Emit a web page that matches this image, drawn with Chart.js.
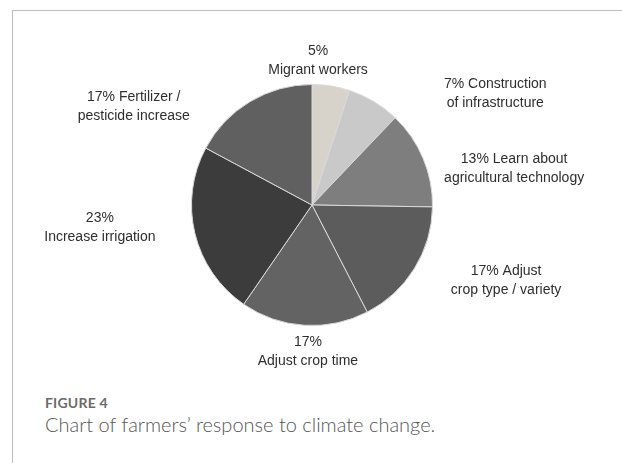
<!DOCTYPE html>
<html>
<head>
<meta charset="utf-8">
<script src="https://cdn.jsdelivr.net/npm/chart.js@4.4.1/dist/chart.umd.min.js"></script>
<style>
  body { margin: 0; background: #fff; width: 622px; height: 463px; overflow: hidden; position: relative; }
  #frame { position: absolute; left: 12px; top: 10px; width: 640px; height: 470px; border-left: 1px solid #bcbcbc; border-top: 1px solid #bcbcbc; }
  #chart-box { position: absolute; left: 0; top: 0; width: 622px; height: 385px; }
  #fig-label { position: absolute; left: 45px; top: 394px; font-family: Lato, "Open Sans", sans-serif; font-size: 14px; font-weight: 700; color: #6b6b6b; letter-spacing: 0.2px; }
  #fig-caption { position: absolute; left: 45px; top: 412px; font-family: Lato, "Open Sans", sans-serif; font-size: 20px; font-weight: 300; color: #555; }
</style>
</head>
<body>
<div id="frame"></div>
<div id="chart-box"><canvas id="myChart" width="622" height="385"></canvas></div>
<div id="fig-label">FIGURE 4</div>
<div id="fig-caption">Chart of farmers’ response to climate change.</div>
<script>
// data (percent of responses), clockwise from the top
const categories = [
  ["", "Migrant workers"],
  ["Construction", "of infrastructure"],
  ["Learn about", "agricultural technology"],
  ["Adjust", "crop type / variety"],
  ["", "Adjust crop time"],
  ["", "Increase irrigation"],
  ["Fertilizer /", "pesticide increase"]
];
const values = [5, 7, 13, 17, 17, 23, 17];
const sliceColors = ['#d7d3cb', '#c9c9c9', '#7e7e7e', '#5c5c5c', '#636363', '#3c3c3c', '#606060'];

// where each label sits: angle (deg, clockwise from top) and distance in pie radii
const labelPlace = [[2.4, 1.2], [58.7, 1.78], [79.7, 1.705], [111.4, 1.73], [181.6, 1.22], [264, 1.77], [298.9, 1.69]];

const outsideLabels = {
  id: 'outsideLabels',
  afterDraw(chart) {
    const ctx = chart.ctx;
    const arcs = chart.getDatasetMeta(0).data;
    ctx.save();
    ctx.font = '14px "Liberation Sans", Arial, sans-serif';
    ctx.fillStyle = '#2e2e2e';
    ctx.textAlign = 'center';
    ctx.textBaseline = 'middle';
    arcs.forEach((arc, i) => {
      const [deg, k] = labelPlace[i];
      const a = deg * Math.PI / 180;
      const cx = arc.x + arc.outerRadius * k * Math.sin(a);
      const cy = arc.y - arc.outerRadius * k * Math.cos(a);
      const first = (values[i] + '% ' + categories[i][0]).trim();
      ctx.fillText(first, cx, cy - 9.5);
      ctx.fillText(categories[i][1], cx, cy + 9.5);
    });
    ctx.restore();
  }
};

const ctx = document.querySelector('#myChart').getContext('2d');
const chart = new Chart(ctx, {
  type: 'pie',
  data: {
    labels: categories.map(c => c.join(' ').trim()),
    datasets: [{
      data: values,
      backgroundColor: sliceColors,
      borderColor: '#d9d9d9',
      borderWidth: 1
    }]
  },
  options: {
    responsive: false,
    animation: false,
    layout: { padding: { top: 84, bottom: 59, left: 2, right: 0 } },
    plugins: {
      legend: { display: false },
      tooltip: { enabled: false }
    }
  },
  plugins: [outsideLabels]
});
</script>
</body>
</html>
